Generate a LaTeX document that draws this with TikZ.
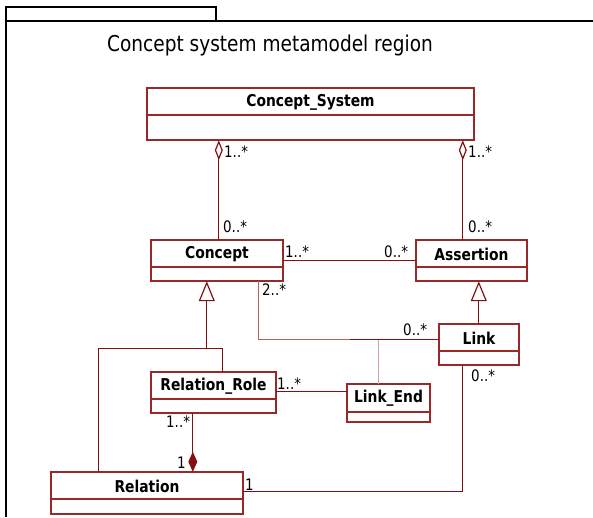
\documentclass[tikz,border=0pt]{standalone}
\usepackage{fontspec}
\setmainfont{DejaVu Sans}[FakeStretch=0.85]
\usetikzlibrary{arrows.meta,calc,fit}
\definecolor{boxc}{RGB}{155,40,40}
\definecolor{linec}{RGB}{135,15,15}
\definecolor{lightc}{RGB}{210,160,160}
\definecolor{midc}{RGB}{185,95,95}
\tikzset{
  boxline/.style={draw=boxc, line width=1.3pt},
  conn/.style={draw=linec, line width=1.2pt},
  clsname/.style={font=\fontsize{16.3}{18}\selectfont\bfseries, inner sep=0pt},
  mult/.style={font=\fontsize{15.8}{17}\selectfont, inner sep=0pt, anchor=west},
  agg/.style={{Diamond[open,length=20pt,width=8pt]}-},
  comp/.style={{Diamond[length=20pt,width=9pt]}-},
  gen/.style={{Triangle[open,length=20pt,width=16pt]}-},
}
\newcommand\umlcls[7]{%
  \draw[boxline, fill=white] (#2,#3) rectangle (#4,#5);
  \draw[boxline] (#2,#6) -- (#4,#6);
  \node[fit={(#2,#3)(#4,#5)}, inner sep=0pt, name=#1] {};
  \node[clsname, name=#1-t] at ({(#2+#4)/2},{(#3+#6)/2+0.5}) {#7};
}
\begin{document}
\begin{tikzpicture}[x=1pt,y=-1pt]
\useasboundingbox (0,0) rectangle (593,517);
% frame
\draw[black, line width=1.4pt] (6,21) rectangle (216,7);
\draw[black, line width=1.4pt] (593,21) -- (6,21) -- (6,517);
\node[font=\fontsize{21.8}{24}\selectfont, inner sep=0pt, name=title] at (270,45) {Concept system metamodel region};

% classes
\umlcls{cs}{147}{88}{474}{140}{115}{Concept\_System}
\umlcls{concept}{151}{240}{283}{281}{267}{Concept}
\umlcls{assertion}{416}{240}{527}{281}{267}{Assertion}
\umlcls{rrole}{151}{372}{276}{413}{399}{Relation\_Role}
\umlcls{linkend}{347}{384}{430}{422}{412}{Link\_End}
\umlcls{link}{439}{324}{519}{365}{351}{Link}
\umlcls{relation}{51}{472}{243}{514}{499}{Relation}

% aggregations
\draw[conn, agg] ($(cs.south west)+(72,0)$) -- ($(concept.north west)+(68,0)$);
\draw[conn, agg] ($(cs.south west)+(316,0)$) -- ($(assertion.north west)+(47,0)$);
% concept - assertion
\draw[conn] (concept.east) -- (assertion.west);
% generalization concept
\draw[conn, gen] ($(concept.south west)+(56,0)$) -- ++(0,67) coordinate (g1);
\draw[conn] ($(rrole.north west)+(72,0)$) |- (g1) -| ($(relation.north west)+(48,0)$);
% concept - link
\draw[draw=midc, line width=1.2pt] ($(concept.south west)+(108,0)$) |- ($(link.north west)+(0,16)$);
\draw[conn] ($(link.north west)+(-89,16)$) coordinate (lk) -- ($(link.north west)+(0,16)$);
% association class link end
\draw[draw=lightc, line width=1.2pt] ($(linkend.north west)+(32,0)$) -- ($(linkend.north west)+(32,-44)$);
% relation role - link end
\draw[conn] ($(rrole.north east)+(0,20)$) -- ($(linkend.north west)+(0,8)$);
% composition
\draw[conn, comp] ($(relation.north west)+(142,0)$) -- ($(rrole.south west)+(42,0)$);
% generalization assertion
\draw[conn, gen] ($(assertion.south west)+(63,0)$) -- ($(link.north west)+(40,0)$);
% link - relation
\draw[conn] ($(link.south west)+(24,0)$) |- ($(relation.north east)+(0,20)$);

% multiplicities
\node[mult, name=m1] at (224,152) {1..*};
\node[mult, name=m2] at (468,152) {1..*};
\node[mult, name=m3] at (223,227) {0..*};
\node[mult, name=m4] at (468,227) {0..*};
\node[mult, name=m5] at (285,252) {1..*};
\node[mult, name=m6] at (384,252) {0..*};
\node[mult, name=m7] at (262,290) {2..*};
\node[mult, name=m8] at (403,330) {0..*};
\node[mult, name=m9] at (471,376) {0..*};
\node[mult, name=m10] at (277,384) {1..*};
\node[mult, name=m11] at (166,422) {1..*};
\node[mult, name=m12] at (177,463) {1};
\node[mult, name=m13] at (245,485) {1};
\end{tikzpicture}
\end{document}
